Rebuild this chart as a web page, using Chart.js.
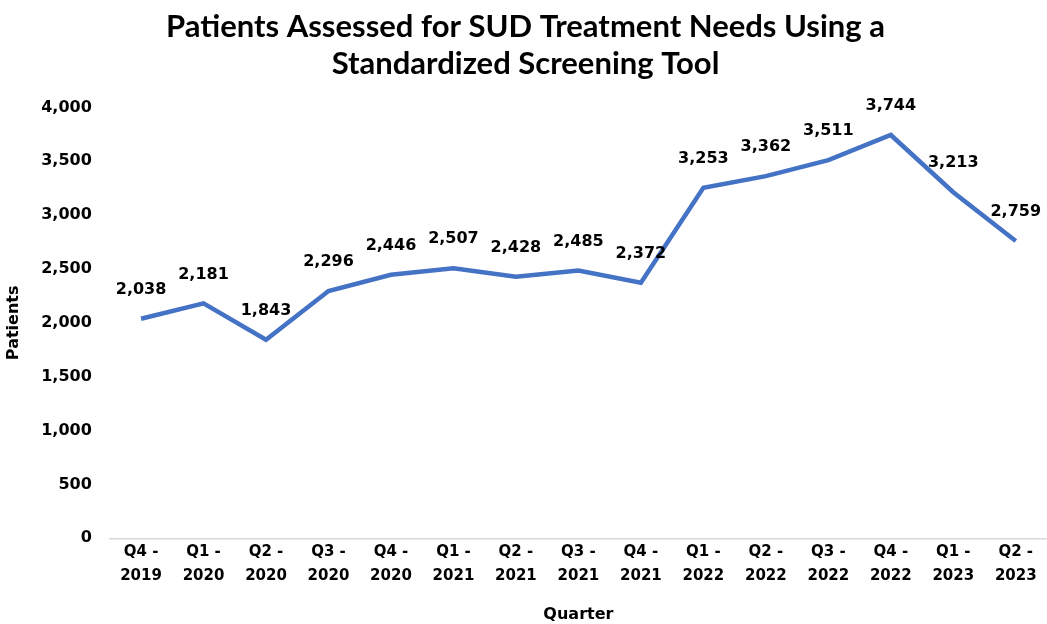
<!DOCTYPE html>
<html>
<head>
<meta charset="utf-8">
<script src="https://cdn.jsdelivr.net/npm/chart.js@4.4.0/dist/chart.umd.min.js"></script>
<style>
    html, body { margin: 0; padding: 0; background: #ffffff; }
    #wrap { width: 1047px; height: 624px; }
</style>
</head>
<body>
<div id="wrap"><canvas id="sudChart"></canvas></div>
<script>
// chart data
const quarters = [
    ['Q4 -', '2019'], ['Q1 -', '2020'], ['Q2 -', '2020'], ['Q3 -', '2020'], ['Q4 -', '2020'],
    ['Q1 -', '2021'], ['Q2 -', '2021'], ['Q3 -', '2021'], ['Q4 -', '2021'],
    ['Q1 -', '2022'], ['Q2 -', '2022'], ['Q3 -', '2022'], ['Q4 -', '2022'],
    ['Q1 -', '2023'], ['Q2 -', '2023']
];
const patients = [2038, 2181, 1843, 2296, 2446, 2507, 2428, 2485, 2372, 3253, 3362, 3511, 3744, 3213, 2759];
const yTicks = [0, 500, 1000, 1500, 2000, 2500, 3000, 3500, 4000];

const labelFont = 'bold 16px "DejaVu Sans", sans-serif';

// draws the value above each point
const valueLabels = {
    id: 'valueLabels',
    afterDatasetsDraw(chart) {
        const ctx = chart.ctx;
        const meta = chart.getDatasetMeta(0);
        ctx.save();
        ctx.font = labelFont;
        ctx.fillStyle = '#000000';
        ctx.textAlign = 'center';
        ctx.textBaseline = 'bottom';
        meta.data.forEach((pt, i) => {
            ctx.fillText(patients[i].toLocaleString('en-US'), pt.x, pt.y - 21);
        });
        ctx.restore();
    }
};

new Chart(document.getElementById('sudChart').getContext('2d'), {
    type: 'line',
    data: {
        labels: quarters,
        datasets: [{
            label: 'Patients',
            data: patients,
            borderColor: '#4472C4',
            borderWidth: 4.5,
            pointRadius: 0,
            tension: 0,
            fill: false
        }]
    },
    options: {
        responsive: true,
        maintainAspectRatio: false,
        animation: false,
        layout: { padding: { left: 4, right: 0, top: 4, bottom: 0 } },
        plugins: {
            legend: { display: false },
            tooltip: { enabled: false },
            title: {
                display: true,
                text: ['Patients Assessed for SUD Treatment Needs Using a', 'Standardized Screening Tool'],
                color: '#000000',
                font: { family: 'Lato, "Open Sans", sans-serif', size: 31, weight: 'bold', lineHeight: 1.2 },
                padding: { top: 4, bottom: 25 }
            }
        },
        scales: {
            x: {
                offset: true,
                grid: { display: false, drawTicks: false },
                border: { display: true, color: '#d9d9d9', width: 1.5 },
                ticks: {
                    color: '#000000',
                    font: { family: '"DejaVu Sans", sans-serif', size: 15, weight: 'bold', lineHeight: 1.65 },
                    maxRotation: 0,
                    autoSkip: false,
                    padding: 1
                },
                title: {
                    display: true,
                    text: 'Quarter',
                    color: '#000000',
                    font: { family: '"DejaVu Sans", sans-serif', size: 16, weight: 'bold' },
                    padding: { top: 15, bottom: 0 }
                }
            },
            y: {
                min: 0,
                max: 4000,
                afterBuildTicks(axis) {
                    axis.ticks = yTicks.map(v => ({ value: v }));
                },
                grid: { display: false, drawTicks: false },
                border: { display: false },
                ticks: {
                    color: '#000000',
                    font: { family: '"DejaVu Sans", sans-serif', size: 16, weight: 'bold' },
                    padding: 18,
                    callback: v => v.toLocaleString('en-US')
                },
                title: {
                    display: true,
                    text: 'Patients',
                    color: '#000000',
                    font: { family: '"DejaVu Sans", sans-serif', size: 16, weight: 'bold' },
                    padding: { top: 0, bottom: 0 }
                }
            }
        }
    },
    plugins: [valueLabels]
});
</script>
</body>
</html>
